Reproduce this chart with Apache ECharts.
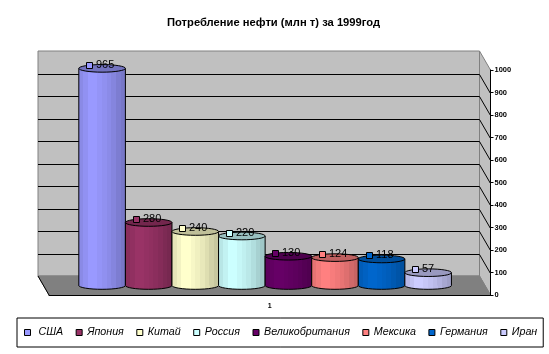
<!DOCTYPE html>
<html>
<head>
<meta charset="utf-8">
<style>
  html, body { margin: 0; padding: 0; background: #fff; }
  #chart { width: 549px; height: 354px; }
</style>
<script src="https://cdn.jsdelivr.net/npm/echarts@6/dist/echarts.min.js"></script>
</head>
<body>
<div id="chart"></div>
<script>
const countries = ['США', 'Япония', 'Китай', 'Россия', 'Великобритания', 'Мексика', 'Германия', 'Иран'];
const values = [965, 280, 240, 220, 130, 124, 118, 57];
const colors = ['#9999FF', '#993366', '#FFFFCC', '#CCFFFF', '#660066', '#FF8080', '#0066CC', '#CCCCFF'];
const categories = ['1'];
const ticks = [100, 200, 300, 400, 500, 600, 700, 800, 900, 1000];

const FONT = '"Liberation Sans", Arial, sans-serif';
// глубина псевдо-3D: смещение задней стенки от передней плоскости
const DEPTH_X = 11;
const DEPTH_Y = 19;

function shade(hex, k) {
  const n = parseInt(hex.slice(1), 16);
  const c = [n >> 16, (n >> 8) & 255, n & 255].map(v => Math.round(v * k));
  return `rgb(${c[0]},${c[1]},${c[2]})`;
}

// полосы как у цилиндра Excel: слева чуть темнее, блик на первой четверти, к правому краю темнеет
const bands = [0.9, 0.95, 1, 1, 0.97, 0.94, 0.91, 0.87, 0.82, 0.78];

function bodyFill(hex) {
  const stops = [];
  bands.forEach((k, i) => {
    stops.push({ offset: i / bands.length, color: shade(hex, k) });
    stops.push({ offset: (i + 1) / bands.length, color: shade(hex, k) });
  });
  return new echarts.graphic.LinearGradient(0, 0, 1, 0, stops);
}

function renderFrame(params, api) {
  const grid = params.coordSys;
  const l = grid.x, r = grid.x + grid.width;
  const b = grid.y + grid.height;
  const top = api.coord([0, 1000])[1];
  const children = [
    // задняя стенка
    { type: 'rect', shape: { x: l - DEPTH_X, y: top - DEPTH_Y, width: grid.width, height: grid.height },
      style: { fill: '#C0C0C0', stroke: '#808080', lineWidth: 1 } },
    // правая стенка
    { type: 'polygon', shape: { points: [[r - DEPTH_X, top - DEPTH_Y], [r, top], [r, b], [r - DEPTH_X, b - DEPTH_Y]] },
      style: { fill: '#C0C0C0', stroke: '#808080', lineWidth: 1 } },
    // пол
    { type: 'polygon', shape: { points: [[l - DEPTH_X, b - DEPTH_Y], [r - DEPTH_X, b - DEPTH_Y], [r, b], [l, b]] },
      style: { fill: '#808080', stroke: '#808080', lineWidth: 1 } },
    { type: 'line', shape: { x1: l - DEPTH_X, y1: b - DEPTH_Y, x2: l, y2: b },
      style: { stroke: '#000', lineWidth: 1 } }
  ];
  ticks.forEach(t => {
    if (t === 1000) return;
    const y = Math.round(api.coord([0, t])[1]) + 0.5;
    children.push({ type: 'line', shape: { x1: l - DEPTH_X, y1: y - DEPTH_Y, x2: r - DEPTH_X, y2: y - DEPTH_Y },
      style: { stroke: '#000', lineWidth: 1 } });
    children.push({ type: 'line', shape: { x1: r - DEPTH_X, y1: y - DEPTH_Y, x2: r, y2: y },
      style: { stroke: '#000', lineWidth: 1 } });
  });
  return { type: 'group', children };
}

function renderCylinder(index) {
  return function (params, api) {
    const band = api.size([1, 0])[0];
    const w = band * 0.1055;
    const rx = w / 2;
    const ry = 3.8;
    const base = api.coord([0, 0]);
    const top = api.coord([0, api.value(1)]);
    const cx = base[0] - DEPTH_X * 0.42 + (index - 3.5) * w;
    const yBase = base[1] - DEPTH_Y / 2;
    const yTop = top[1] - DEPTH_Y / 2;
    const color = colors[index];
    const fill = bodyFill(color);
    const line = { stroke: '#000', lineWidth: 1 };
    return {
      type: 'group',
      children: [
        { type: 'ellipse', shape: { cx, cy: yBase, rx, ry }, style: { fill, ...line } },
        { type: 'rect', shape: { x: cx - rx, y: yTop, width: w, height: yBase - yTop }, style: { fill } },
        { type: 'line', shape: { x1: cx - rx, y1: yTop, x2: cx - rx, y2: yBase }, style: line },
        { type: 'line', shape: { x1: cx + rx, y1: yTop, x2: cx + rx, y2: yBase }, style: line },
        { type: 'ellipse', shape: { cx, cy: yTop, rx, ry }, style: { fill: shade(color, 0.75), ...line } },
        { type: 'rect', shape: { x: Math.round(cx - 16) + 0.5, y: Math.round(yTop - 6.5) + 0.5, width: 6, height: 6 },
          style: { fill: color, ...line } },
        { type: 'text', x: Math.round(cx - 6), y: yTop - 3.5,
          style: { text: String(api.value(1)), fill: '#000', font: '11px ' + FONT, align: 'left', verticalAlign: 'middle' } }
      ]
    };
  };
}

const series = [{
  type: 'custom',
  silent: true,
  renderItem: renderFrame,
  data: [[0, 0]],
  encode: { x: 0, y: 1 },
  z: 1
}];
countries.forEach((name, i) => {
  series.push({
    type: 'custom',
    name,
    renderItem: renderCylinder(i),
    data: [[0, values[i]]],
    encode: { x: 0, y: 1 },
    itemStyle: { color: colors[i] },
    z: 2 + i * 0.01
  });
});

const chart = echarts.init(document.getElementById('chart'), null, { renderer: 'canvas' });
chart.setOption({
  animation: false,
  backgroundColor: '#fff',
  title: {
    text: 'Потребление нефти (млн т) за 1999год',
    left: 167,
    top: 17,
    padding: 0,
    textStyle: { fontFamily: FONT, fontSize: 11.2, fontWeight: 'bold', color: '#000' }
  },
  legend: {
    data: countries,
    left: 17,
    top: 318,
    width: 530,
    padding: [9, 6, 9, 7],
    itemWidth: 6,
    itemHeight: 6,
    itemGap: 12.5,
    icon: 'rect',
    orient: 'horizontal',
    backgroundColor: '#fff',
    borderColor: '#000',
    borderWidth: 1,
    borderRadius: 0,
    selectedMode: false,
    itemStyle: { borderColor: '#000', borderWidth: 1 },
    // в оригинале перед первой подписью есть отступ
    formatter: name => (name === countries[0] ? '\u00A0' + name : name),
    textStyle: { fontFamily: FONT, fontSize: 10.7, fontStyle: 'italic', color: '#000' }
  },
  grid: { left: 49, right: 58.5, top: 70, bottom: 59 },
  xAxis: {
    type: 'category',
    data: categories,
    z: 5,
    axisLine: { lineStyle: { color: '#000', width: 1 } },
    axisTick: { length: 3, lineStyle: { color: '#000' } },
    axisLabel: { color: '#000', fontFamily: FONT, fontSize: 7, fontWeight: 'bold', margin: 8 }
  },
  yAxis: {
    type: 'value',
    position: 'right',
    min: 0,
    max: 1000,
    interval: 100,
    z: 5,
    splitLine: { show: false },
    axisLine: { show: true, lineStyle: { color: '#000', width: 1 } },
    axisTick: { show: true, length: 3, lineStyle: { color: '#000' } },
    axisLabel: { color: '#000', fontFamily: FONT, fontSize: 7.5, fontWeight: 'bold', margin: 4, formatter: v => String(v) }
  },
  series
});
</script>
</body>
</html>
